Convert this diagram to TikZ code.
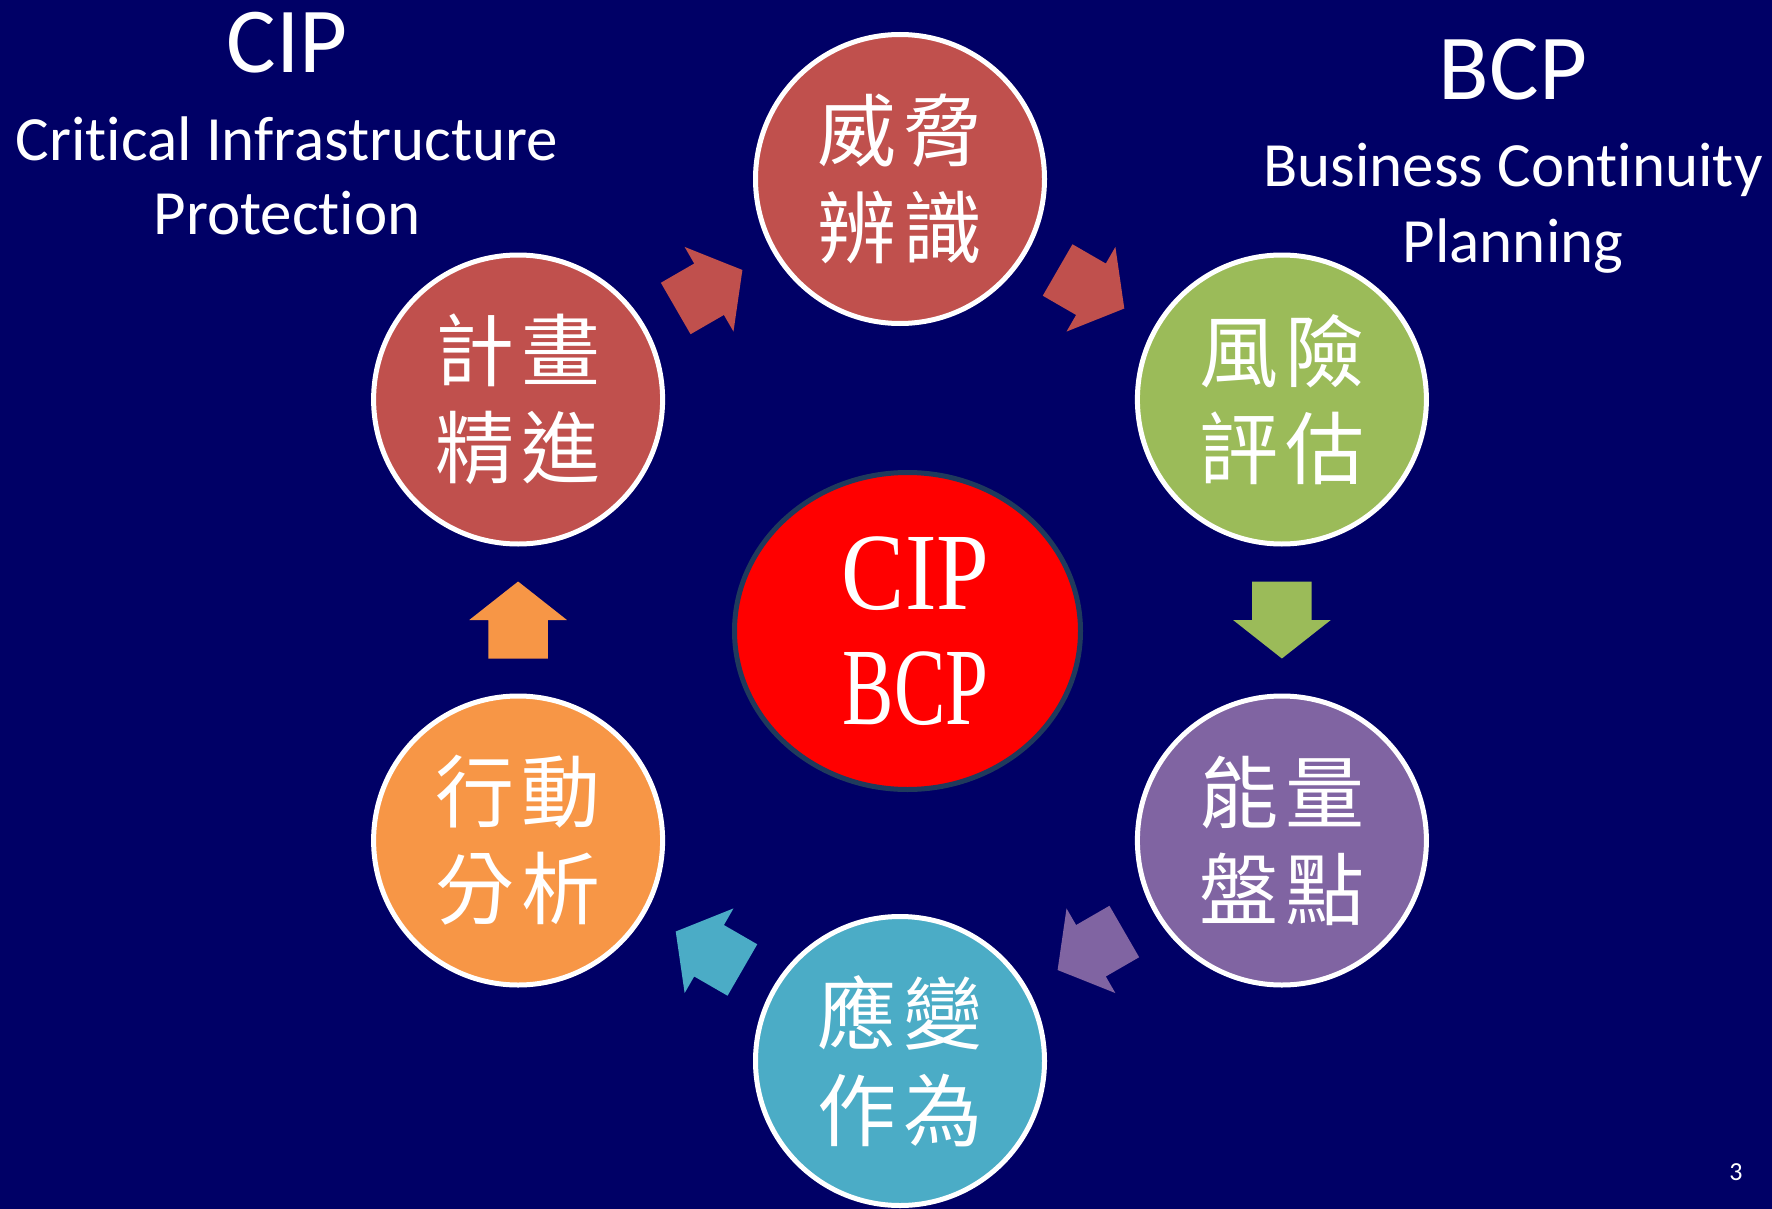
\documentclass[tikz,border=0pt]{standalone}
\usepackage{fontspec}
\setmainfont{Carlito}[RawFeature={-liga;-clig;-calt;-dlig}]
\newfontfamily\cjk{Noto Sans CJK TC}
\newfontfamily\lserif{Liberation Serif}
\usetikzlibrary{shapes.geometric,calc}
\definecolor{bg}{HTML}{000066}
\definecolor{cred}{HTML}{C0504D}
\definecolor{cgreen}{HTML}{9BBB59}
\definecolor{cpurple}{HTML}{8064A2}
\definecolor{ccyan}{HTML}{4BACC6}
\definecolor{corange}{HTML}{F79646}
\definecolor{cborder}{HTML}{1F3A5C}
\newcommand\zpair[2]{#1\kern7pt#2}
\begin{document}
\begin{tikzpicture}[x=1pt,y=-1pt,
  stepcirc/.style={circle, draw=white, line width=5pt, minimum size=289pt, inner sep=0pt,
    text=white, align=center, font=\cjk\fontsize{79}{97}\selectfont},
  titletext/.style={anchor=base, text=white, inner sep=0pt},
  blockarrow/.pic={\fill[#1] (-38.5,-29.7) -- (0,-29.7) -- (0,-48.85) -- (38.5,0) -- (0,48.85) -- (0,29.7) -- (-38.5,29.7) -- cycle;}
]
\fill[bg] (0,0) rectangle (1772,1209);
\useasboundingbox (0,0) rectangle (1772,1209);

% titles
\node[titletext, font=\fontsize{93}{93}\selectfont] (cipt) at (287,73) {CIP};
\node[titletext, font=\fontsize{63}{63}\selectfont] (cipl1) at (287,160.5) {Crit\kern0pt ical Infrastructure};
\node[titletext, font=\fontsize{63}{63}\selectfont] (cipl2) at (287,235) {Protect\kern0pt ion};
\node[titletext, font=\fontsize{93}{93}\selectfont] (bcpt) at (1513,99.5) {BCP};
\node[titletext, font=\fontsize{63}{63}\selectfont] (bcpl1) at (1513,186.5) {Business Cont\kern0pt inuit\kern0pt y};
\node[titletext, font=\fontsize{63}{63}\selectfont] (bcpl2) at (1513,262) {Planning};

% step circles
\node[stepcirc, fill=cred] (threat) at (900,179) {\zpair{威}{脅}\\\zpair{辨}{識}};
\node[stepcirc, fill=cgreen] (risk) at (1281.9,399.5) {\zpair{風}{險}\\\zpair{評}{估}};
\node[stepcirc, fill=cpurple] (capa) at (1281.9,840.5) {\zpair{能}{量}\\\zpair{盤}{點}};
\node[stepcirc, fill=ccyan] (resp) at (900,1061) {\zpair{應}{變}\\\zpair{作}{為}};
\node[stepcirc, fill=corange] (act) at (518.1,840.5) {\zpair{行}{動}\\\zpair{分}{析}};
\node[stepcirc, fill=cred] (plan) at (518.1,399.5) {\zpair{計}{畫}\\\zpair{精}{進}};

% centre
\node[ellipse, draw=cborder, line width=5pt, fill=red, minimum width=346pt, minimum height=317pt,
  inner sep=0pt] (core) at (907.5,631) {};
\node[inner sep=0pt, text=white, align=center, font=\lserif\fontsize{110}{115}\selectfont]
  (coretext) at ($(core.center)+(8,0)$) {\scalebox{0.86}[1]{CIP}\\\scalebox{0.70}[1]{BCP}};

% block arrows
\pic[rotate=30] at ($(plan)!0.5!(threat)$) {blockarrow=cred};
\pic[rotate=-30] at ($(threat)!0.5!(risk)$) {blockarrow=cred};
\pic[rotate=-90] at ($(risk)!0.5!(capa)$) {blockarrow=cgreen};
\pic[rotate=210] at ($(capa)!0.5!(resp)$) {blockarrow=cpurple};
\pic[rotate=150] at ($(resp)!0.5!(act)$) {blockarrow=ccyan};
\pic[rotate=90] at ($(act)!0.5!(plan)$) {blockarrow=corange};

% page number
\node[text=white, inner sep=0pt, font=\fontsize{26}{26}\selectfont] (pg) at (1736,1172) {3};
\end{tikzpicture}
\end{document}
